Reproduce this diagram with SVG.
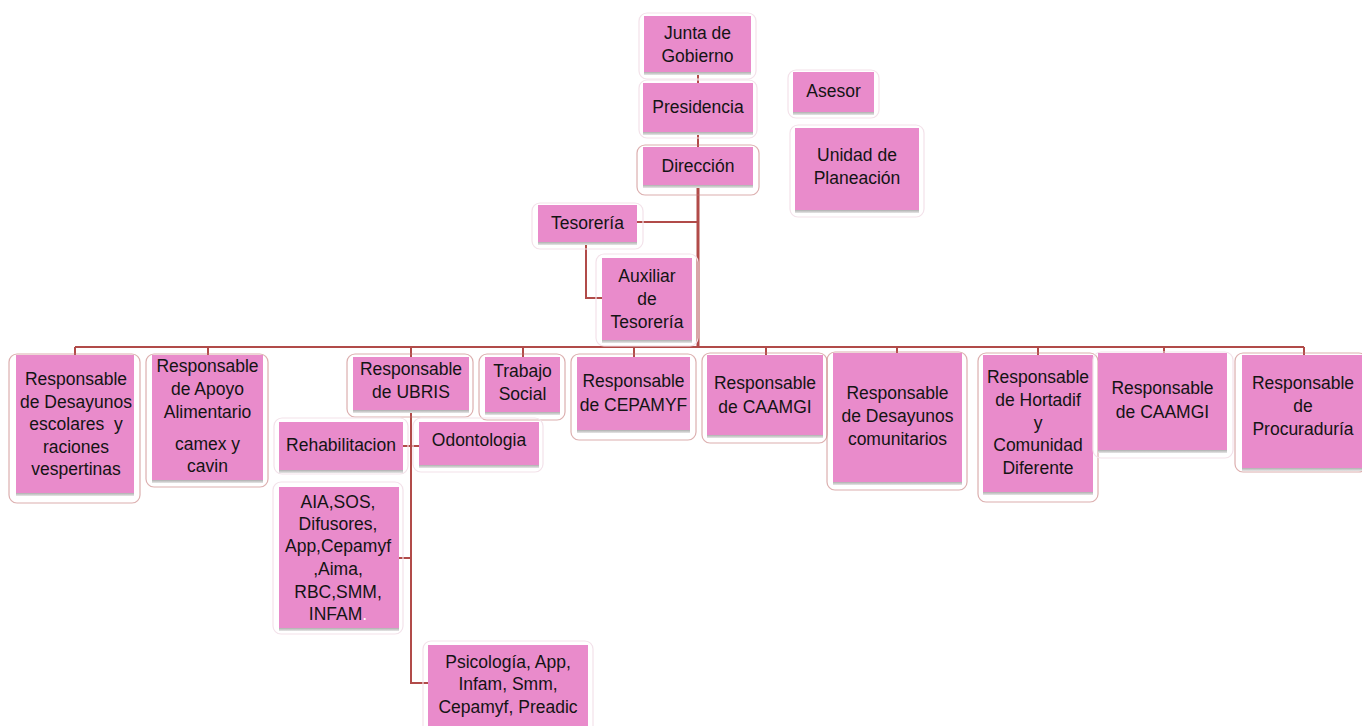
<svg xmlns="http://www.w3.org/2000/svg" width="1362" height="726" viewBox="0 0 1362 726">
<defs>
<linearGradient id="sh" x1="0" y1="0" x2="0" y2="1">
<stop offset="0" stop-color="#8a8a8a"/>
<stop offset="1" stop-color="#e6e6e6"/>
</linearGradient>
</defs>
<style>
.box{fill:#E98BCB}
.sh{fill:url(#sh)}
.halo{fill:none;stroke:#f3e2ea;stroke-width:1.2}
.halo.r{stroke:#c47a7a;stroke-opacity:0.6}
.ln{fill:none;stroke:#B14B49;stroke-width:2}
.ln.t{stroke-width:3}
text{font-family:"Liberation Sans",Arial,sans-serif;font-size:17.5px;fill:#141414;text-anchor:middle}
</style>
<rect width="1362" height="726" fill="#ffffff"/>
<g id="connectors">
<path class="ln" d="M698 72V83"/>
<path class="ln" d="M698 132V147"/>
<path class="ln t" d="M698 185V347"/>
<path class="ln" d="M637 222H698"/>
<path class="ln" d="M586 242V298H602"/>
<path class="ln" d="M75 347H1304"/>
<path class="ln" d="M75 347V355M208 347V355M411 347V357M523 347V357M634 347V357M766 347V355M897 347V353M1038 347V355M1164 347V353M1304 347V355"/>
<path class="ln" d="M411 410V683H428"/>
<path class="ln" d="M403 446H419"/>
<path class="ln" d="M399 558H411"/>
</g>
<g id="junta">
<rect class="halo" x="639" y="13" width="117" height="66" rx="8"/>
<rect class="sh" x="644" y="70" width="107" height="5"/>
<rect class="box" x="644" y="16" width="107" height="56"/>
<text x="697.5" y="39">Junta de</text>
<text x="697.5" y="62">Gobierno</text>
</g>
<g id="presidencia">
<rect class="halo" x="639" y="80" width="118" height="58" rx="8"/>
<rect class="sh" x="643" y="130" width="110" height="5"/>
<rect class="box" x="643" y="83" width="110" height="49"/>
<text x="698" y="113">Presidencia</text>
</g>
<g id="direccion">
<rect class="halo r" x="637" y="145" width="122" height="50" rx="8"/>
<rect class="sh" x="643" y="183" width="110" height="5"/>
<rect class="box" x="643" y="147" width="110" height="38"/>
<text x="698" y="172">Dirección</text>
</g>
<g id="asesor">
<rect class="halo" x="788" y="70" width="91" height="48" rx="8"/>
<rect class="sh" x="793" y="110" width="81" height="5"/>
<rect class="box" x="793" y="72" width="81" height="40"/>
<text x="833.5" y="97">Asesor</text>
</g>
<g id="planeacion">
<rect class="halo" x="790" y="125" width="134" height="92" rx="8"/>
<rect class="sh" x="795" y="208" width="124" height="5"/>
<rect class="box" x="795" y="128" width="124" height="82"/>
<text x="857" y="161">Unidad de</text>
<text x="857" y="184">Planeación</text>
</g>
<g id="tesoreria">
<rect class="halo" x="532" y="203" width="111" height="46" rx="8"/>
<rect class="sh" x="538" y="240" width="99" height="5"/>
<rect class="box" x="538" y="205" width="99" height="37"/>
<text x="587.5" y="229">Tesorería</text>
</g>
<g id="auxiliar">
<rect class="halo" x="596" y="254" width="102" height="92" rx="8"/>
<rect class="sh" x="602" y="338" width="90" height="5"/>
<rect class="box" x="602" y="258" width="90" height="82"/>
<text x="647" y="282">Auxiliar</text>
<text x="647" y="305">de</text>
<text x="647" y="328">Tesorería</text>
</g>
<g id="desayunos-escolares">
<rect class="halo r" x="9" y="354" width="131" height="149" rx="8"/>
<rect class="sh" x="16" y="491" width="118" height="5"/>
<rect class="box" x="16" y="355" width="118" height="138"/>
<text x="76" y="385">Responsable</text>
<text x="76" y="408">de Desayunos</text>
<text x="76" y="430" xml:space="preserve">escolares  y</text>
<text x="76" y="453">raciones</text>
<text x="76" y="475">vespertinas</text>
</g>
<g id="apoyo">
<rect class="halo r" x="146" y="354" width="122" height="133" rx="8"/>
<rect class="sh" x="152" y="478" width="111" height="5"/>
<rect class="box" x="152" y="355" width="111" height="125"/>
<text x="207.5" y="372">Responsable</text>
<text x="207.5" y="395">de Apoyo</text>
<text x="207.5" y="418">Alimentario</text>
<text x="207.5" y="450">camex y</text>
<text x="207.5" y="472">cavin</text>
</g>
<g id="ubris">
<rect class="halo r" x="347" y="354" width="126" height="63" rx="8"/>
<rect class="sh" x="353" y="408" width="116" height="5"/>
<rect class="box" x="353" y="357" width="116" height="53"/>
<text x="411" y="375">Responsable</text>
<text x="411" y="398">de UBRIS</text>
</g>
<g id="trabajo-social">
<rect class="halo r" x="479" y="354" width="86" height="66" rx="8"/>
<rect class="sh" x="485" y="410" width="75" height="5"/>
<rect class="box" x="485" y="357" width="75" height="55"/>
<text x="522.5" y="377">Trabajo</text>
<text x="522.5" y="400">Social</text>
</g>
<g id="cepamyf">
<rect class="halo r" x="571" y="354" width="125" height="86" rx="8"/>
<rect class="sh" x="577" y="428" width="113" height="5"/>
<rect class="box" x="577" y="357" width="113" height="73"/>
<text x="633.5" y="387">Responsable</text>
<text x="633.5" y="411">de CEPAMYF</text>
</g>
<g id="caamgi-1">
<rect class="halo r" x="702" y="353" width="125" height="90" rx="8"/>
<rect class="sh" x="707" y="433" width="116" height="5"/>
<rect class="box" x="707" y="355" width="116" height="80"/>
<text x="765" y="389">Responsable</text>
<text x="765" y="413">de CAAMGI</text>
</g>
<g id="desayunos-comunitarios">
<rect class="halo r" x="827" y="352" width="140" height="138" rx="8"/>
<rect class="sh" x="833" y="480" width="129" height="5"/>
<rect class="box" x="833" y="353" width="129" height="129"/>
<text x="897.5" y="399">Responsable</text>
<text x="897.5" y="422">de Desayunos</text>
<text x="897.5" y="445">comunitarios</text>
</g>
<g id="hortadif">
<rect class="halo r" x="978" y="353" width="120" height="149" rx="8"/>
<rect class="sh" x="983" y="490" width="110" height="5"/>
<rect class="box" x="983" y="355" width="110" height="137"/>
<text x="1038" y="383">Responsable</text>
<text x="1038" y="406">de Hortadif</text>
<text x="1038" y="429">y</text>
<text x="1038" y="451">Comunidad</text>
<text x="1038" y="474">Diferente</text>
</g>
<g id="caamgi-2">
<rect class="halo" x="1093" y="352" width="140" height="106" rx="8"/>
<rect class="sh" x="1098" y="448" width="129" height="5"/>
<rect class="box" x="1098" y="353" width="129" height="97"/>
<text x="1162.5" y="394">Responsable</text>
<text x="1162.5" y="418">de CAAMGI</text>
</g>
<g id="procuraduria">
<rect class="halo r" x="1235" y="353" width="132" height="119" rx="8"/>
<rect class="sh" x="1242" y="466" width="122" height="5"/>
<rect class="box" x="1242" y="355" width="122" height="113"/>
<text x="1303" y="389">Responsable</text>
<text x="1303" y="412">de</text>
<text x="1303" y="435">Procuraduría</text>
</g>
<g id="rehabilitacion">
<rect class="halo" x="274" y="418" width="134" height="56" rx="8"/>
<rect class="sh" x="279" y="468" width="124" height="5"/>
<rect class="box" x="279" y="422" width="124" height="48"/>
<text x="341" y="451">Rehabilitacion</text>
</g>
<g id="odontologia">
<rect class="halo" x="413" y="418" width="130" height="54" rx="8"/>
<rect class="sh" x="419" y="463" width="120" height="5"/>
<rect class="box" x="419" y="422" width="120" height="43"/>
<text x="479" y="446">Odontologia</text>
</g>
<g id="aia">
<rect class="halo" x="273" y="482" width="130" height="152" rx="8"/>
<rect class="sh" x="279" y="626" width="120" height="5"/>
<rect class="box" x="279" y="487" width="120" height="141"/>
<text x="338" y="508">AIA,SOS,</text>
<text x="338" y="530">Difusores,</text>
<text x="338" y="552">App,Cepamyf</text>
<text x="338" y="575">,Aima,</text>
<text x="338" y="598">RBC,SMM,</text>
<text x="338" y="620">INFAM<tspan fill="#ffffff">.</tspan></text>
</g>
<g id="psicologia">
<rect class="halo" x="423" y="641" width="170" height="95" rx="8"/>
<rect class="box" x="428" y="645" width="160" height="85"/>
<text x="508" y="668">Psicología, App,</text>
<text x="508" y="690">Infam, Smm,</text>
<text x="508" y="713">Cepamyf, Preadic</text>
</g>
</svg>
